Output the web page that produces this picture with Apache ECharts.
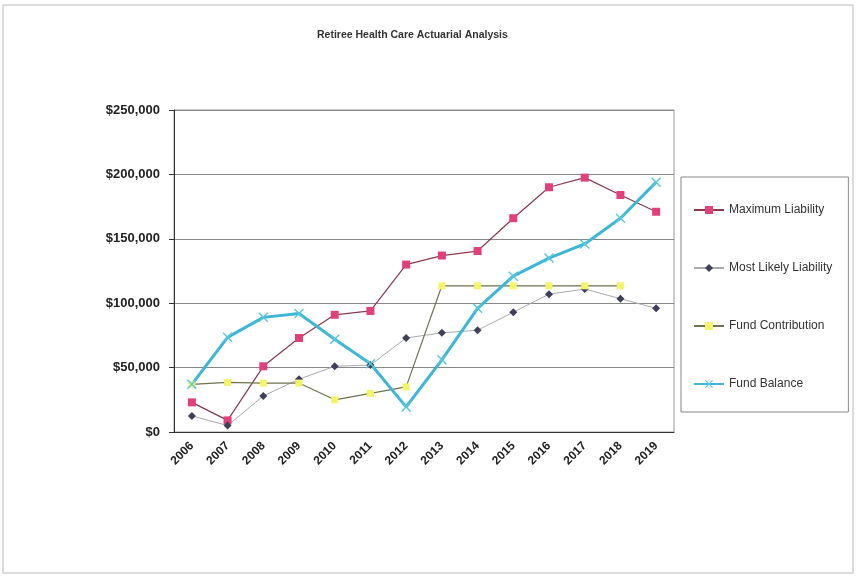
<!DOCTYPE html>
<html>
<head>
<meta charset="utf-8">
<title>Retiree Health Care Actuarial Analysis</title>
<script src="https://cdn.jsdelivr.net/npm/echarts@6/dist/echarts.min.js"></script>
<style>
    html, body { margin: 0; padding: 0; background: #fff; }
    #main { width: 857px; height: 577px; }
</style>
</head>
<body>
<div id="main"></div>
<script>
// 数据
var years = ['2006', '2007', '2008', '2009', '2010', '2011', '2012', '2013', '2014', '2015', '2016', '2017', '2018', '2019'];
var maxLiability = [23000, 9000, 51000, 73000, 91000, 94000, 130000, 137000, 140500, 166000, 190000, 197500, 184000, 171000];
var likelyLiability = [12500, 5000, 28000, 41000, 51000, 52000, 73000, 77000, 79000, 93000, 107000, 111000, 103500, 96000];
var fundContribution = [37000, 38500, 38000, 38000, 25000, 30000, 35000, 113500, 113500, 113500, 113500, 113500, 113500, null];
var fundBalance = [37000, 73500, 89000, 92000, 72000, 53000, 19500, 56000, 96000, 121000, 135000, 146000, 166000, 194000];

(function () {
    var myChart = echarts.init(document.getElementById('main'));
    var font = 'Liberation Sans, Arial, sans-serif';
    // X 形标记
    var xMark = 'path://M0,1L1,0L5,4L9,0L10,1L6,5L10,9L9,10L5,6L1,10L0,9L4,5Z';

    var option = {
        backgroundColor: '#fff',
        animation: false,
        title: {
            text: 'Retiree Health Care Actuarial Analysis',
            left: 312,
            top: 25,
            textStyle: { fontFamily: font, fontSize: 10.5, fontWeight: 'bold', color: '#333' }
        },
        graphic: [{
            type: 'rect',
            shape: { x: 3, y: 5, width: 850, height: 568 },
            style: { fill: 'none', stroke: '#bbb', lineWidth: 1 },
            silent: true
        }],
        legend: {
            orient: 'vertical',
            left: 681,
            top: 177,
            padding: [27, 16, 22, 12],
            itemGap: 46,
            itemWidth: 30,
            itemHeight: 10,
            borderColor: '#888',
            borderWidth: 1,
            textStyle: { fontFamily: font, fontSize: 12, color: '#333' },
            data: ['Maximum Liability', 'Most Likely Liability', 'Fund Contribution', 'Fund Balance']
        },
        grid: {
            left: 174,
            right: 183,
            top: 110,
            bottom: 145,
            show: true,
            borderColor: '#999',
            borderWidth: 1
        },
        xAxis: {
            type: 'category',
            data: years,
            axisLine: { lineStyle: { color: '#333' } },
            axisTick: { lineStyle: { color: '#333' } },
            axisLabel: {
                rotate: 45,
                interval: 0,
                margin: 12,
                fontFamily: font,
                fontSize: 12,
                fontWeight: 'bold',
                color: '#222'
            }
        },
        yAxis: {
            type: 'value',
            min: 0,
            max: 250000,
            interval: 50000,
            axisLine: { show: true, lineStyle: { color: '#333' } },
            axisTick: { show: true, lineStyle: { color: '#333' } },
            splitLine: { lineStyle: { color: '#888' } },
            axisLabel: {
                margin: 14,
                fontFamily: font,
                fontSize: 13,
                fontWeight: 'bold',
                color: '#222',
                formatter: function (v) {
                    return '$' + v.toString().replace(/\B(?=(\d{3})+(?!\d))/g, ',');
                }
            }
        },
        series: [
            {
                name: 'Maximum Liability',
                type: 'line',
                data: maxLiability,
                symbol: 'rect',
                symbolSize: 8,
                itemStyle: { color: '#e2407a' },
                lineStyle: { color: '#8a3a4c', width: 1.2 }
            },
            {
                name: 'Most Likely Liability',
                type: 'line',
                data: likelyLiability,
                symbol: 'diamond',
                symbolSize: 8,
                itemStyle: { color: '#3f3f5c' },
                lineStyle: { color: '#aaa', width: 1 }
            },
            {
                name: 'Fund Contribution',
                type: 'line',
                data: fundContribution,
                symbol: 'rect',
                symbolSize: 7,
                itemStyle: { color: '#f4f46a' },
                lineStyle: { color: '#6f7350', width: 1.2 }
            },
            {
                name: 'Fund Balance',
                type: 'line',
                data: fundBalance,
                symbol: xMark,
                symbolSize: 10,
                itemStyle: { color: '#55c8dc' },
                lineStyle: { color: '#3db6d8', width: 3 }
            }
        ]
    };

    myChart.setOption(option);
})();
</script>
</body>
</html>
